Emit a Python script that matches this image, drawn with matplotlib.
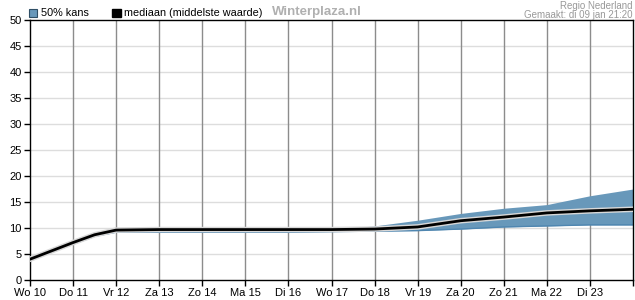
import numpy as np
import matplotlib
matplotlib.use("Agg")
import matplotlib.pyplot as plt
import matplotlib.patheffects as pe
from matplotlib.patches import Patch

plt.rcParams['font.family'] = ['Liberation Sans', 'DejaVu Sans']

# - - - - data - - - - #
day_labels = ["Wo 10", "Do 11", "Vr 12", "Za 13", "Zo 14", "Ma 15", "Di 16",
              "Wo 17", "Do 18", "Vr 19", "Za 20", "Zo 21", "Ma 22", "Di 23"]

t = [0, 1, 1.5, 2, 3, 4, 5, 6, 7, 8, 9, 10, 11, 12, 13, 14]
median = [4.0, 7.2, 8.7, 9.6, 9.7, 9.7, 9.7, 9.7, 9.7, 9.8, 10.2, 11.4, 12.1, 12.9, 13.3, 13.6]
band_lo = [3.8, 6.9, 8.4, 9.2, 9.2, 9.2, 9.2, 9.2, 9.3, 9.4, 9.5, 9.8, 10.2, 10.4, 10.6, 10.6]
band_hi = [4.0, 7.2, 8.7, 9.7, 9.7, 9.7, 9.7, 9.7, 9.8, 10.4, 11.5, 12.8, 13.8, 14.5, 16.2, 17.5]

band_color = "#6898ba"

fig = plt.figure(figsize=(6.35, 3.0), dpi=100)
ax = fig.add_axes([30/635, 20/300, 603/635, 260/300])

ax.fill_between(t, band_lo, band_hi, color=band_color, lw=0, zorder=2)
ax.plot(t, band_lo, color="#4f86b0", lw=1, zorder=2)
ax.plot(t, median, color="black", lw=2, zorder=3,
        path_effects=[pe.Stroke(linewidth=4, foreground="#d8d8d8"), pe.Normal()])

ax.set_xlim(0, 14)
ax.set_ylim(0, 50)
ax.set_yticks(np.arange(0, 51, 5))
ax.set_xticks(np.arange(0, 15))
ax.set_xticklabels(day_labels + [""])

for y in np.arange(5, 50, 5):
    ax.axhline(y, color="#dddddd", lw=1, zorder=1)
for x in range(1, 14):
    ax.axvline(x, color="#8c8c8c", lw=1, zorder=1)

for s in ax.spines.values():
    s.set_color("black")
    s.set_linewidth(1)
ax.tick_params(axis="both", labelsize=8, length=4, width=1, color="black", pad=2)

handles = [Patch(facecolor=band_color, edgecolor="#2f4f66", lw=0.8),
           Patch(facecolor="black", edgecolor="black")]
ax.legend(handles, ["50% kans", "mediaan (middelste waarde)"],
          loc="lower left", bbox_to_anchor=(-0.002, 1.006), ncol=2, frameon=False,
          fontsize=7.8, handlelength=0.8, handleheight=0.8, handletextpad=0.3,
          columnspacing=2.2, borderpad=0, borderaxespad=0)

fig.text(272/635, 1 - 12/300, "Winterplaza.nl", color="#b0b0b0",
         fontsize=9.5, fontweight="bold", va="center", ha="left")
fig.text(632/635, 1 - 6/300, "Regio Nederland", color="#999999",
         fontsize=7, ha="right", va="center")
fig.text(632/635, 1 - 15/300, "Gemaakt: di 09 jan 21:20", color="#999999",
         fontsize=7, ha="right", va="center")

fig.savefig("out.png", dpi=100)
